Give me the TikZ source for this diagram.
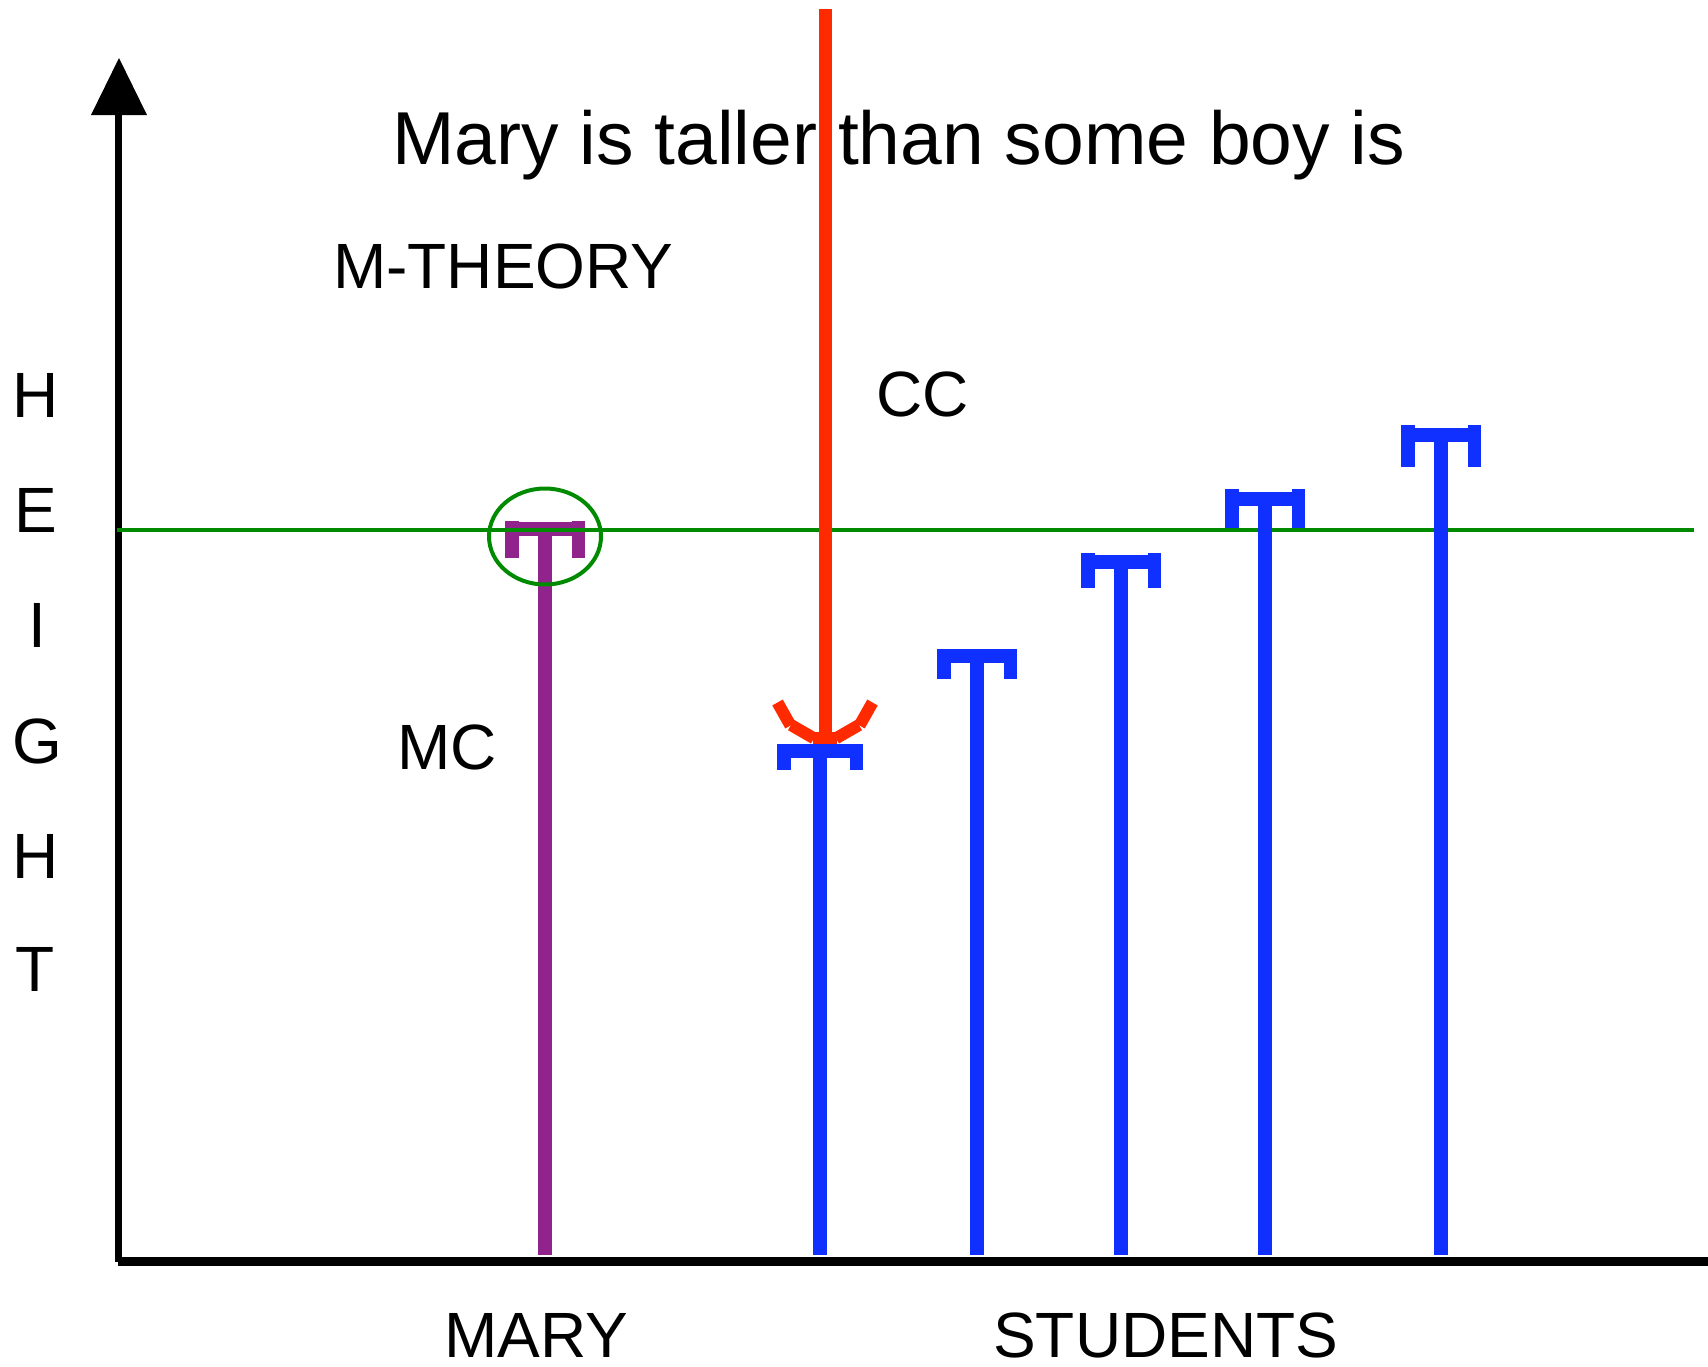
\documentclass[tikz,border=0pt]{standalone}
\usepackage{fontspec}
\setmainfont{Liberation Sans}
\definecolor{tpurple}{RGB}{145,35,140}
\definecolor{tblue}{RGB}{16,48,255}
\definecolor{tred}{RGB}{255,42,0}
\definecolor{tgreen}{RGB}{0,138,0}
\newcommand\drawtee[6]{% cx, bar top, prong top, prong bottom, half width, colour
  \draw[line width=13.5, #6] (#1,1255) -- (#1,#2+6);
  \fill[#6] (#1-#5,#2) rectangle (#1+#5,#2+13.5);
  \fill[#6] (#1-#5,#3) rectangle (#1-#5+13.5,#4);
  \fill[#6] (#1+#5-13.5,#3) rectangle (#1+#5,#4);
}
\tikzset{
  lbl/.style={inner sep=0, anchor=base west, font=\fontsize{64}{70}\selectfont},
  vlbl/.style={inner sep=0, anchor=base, font=\fontsize{64}{70}\selectfont},
  redarm/.style={tred, line width=12, line cap=butt}
}
\begin{document}
\begin{tikzpicture}[x=1pt,y=-1pt]
\useasboundingbox (0,0) rectangle (1708,1366);
% axes
\draw[line width=7] (118.5,1262) -- (118.5,112);
\fill (91,115) -- (147,115) -- (119,58) -- cycle;
\draw[line width=8.5] (118,1261.5) -- (1708,1261.5);
% purple T (Mary)
\drawtee{545}{522}{521}{558}{40}{tpurple}
% green standard line and circle
\draw[tgreen, line width=4.5] (117,530) -- (1694,530);
\draw[tgreen, line width=4] (545,536.5) ellipse [x radius=56, y radius=48];
% blue Ts (students)
\drawtee{820}{744}{744}{770}{43}{tblue}
\drawtee{977}{649}{649}{679}{40}{tblue}
\drawtee{1121}{555}{553}{588}{40}{tblue}
\drawtee{1265}{492}{489}{528}{40}{tblue}
\drawtee{1441}{428}{425}{467}{40}{tblue}
% red comparison line with open head
\coordinate (rtop) at (825,9);
\coordinate (rbot) at (825,740);
\draw[tred, line width=13] (rtop) -- (rbot);
\draw[redarm] (777.5,702.5) -- (790.5,725.5);
\draw[redarm] (791,725) -- (814,738.3);
\draw[redarm] (813,738.3) -- (837,738.3);
\draw[redarm] (836,738.3) -- (859,725);
\draw[redarm] (859.5,725.5) -- (872.5,702.5);
% texts
\node[inner sep=0, anchor=base west, font=\fontsize{75}{80}\selectfont] (title) at (392,164) {Mary is taller than some boy is};
\node[lbl] (mth) at (333,288) {M-THEORY};
\node[lbl] (cc) at (876,416) {CC};
\node[lbl] (mc) at (397,769) {MC};
\node[lbl] (mary) at (444,1357) {MARY};
\node[lbl] (stud) at (993,1357) {STUDENTS};
\node[vlbl] (h1) at (36,417) {H};
\node[vlbl] (e1) at (36,532) {E};
\node[vlbl] (i1) at (37,647) {I};
\node[vlbl] (g1) at (37,763) {G};
\node[vlbl] (h2) at (36,878) {H};
\node[vlbl] (t1) at (35,991) {T};
\end{tikzpicture}
\end{document}
